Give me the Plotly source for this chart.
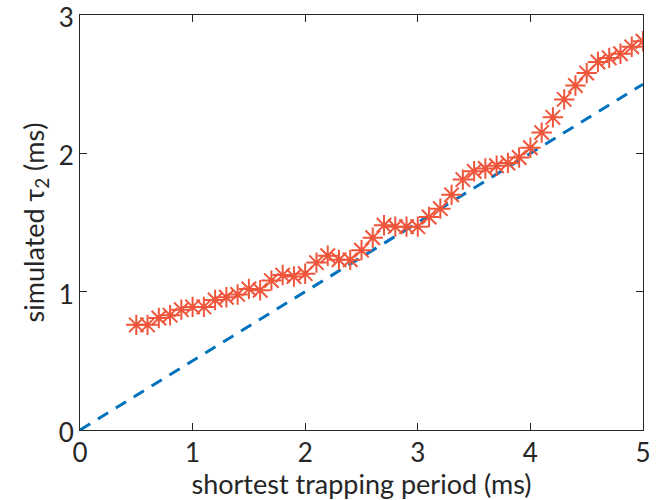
import plotly.graph_objects as go

x_period = [0.5, 0.6, 0.7, 0.8, 0.9, 1.0, 1.1, 1.2, 1.3, 1.4, 1.5, 1.6, 1.7, 1.8, 1.9,
            2.0, 2.1, 2.2, 2.3, 2.4, 2.5, 2.6, 2.7, 2.8, 2.9, 3.0, 3.1, 3.2, 3.3, 3.4,
            3.5, 3.6, 3.7, 3.8, 3.9, 4.0, 4.1, 4.2, 4.3, 4.4, 4.5, 4.6, 4.7, 4.8, 4.9, 5.0]
tau2_sim = [0.76, 0.76, 0.81, 0.83, 0.87, 0.89, 0.89, 0.94, 0.96, 0.98, 1.02, 1.01, 1.08, 1.12, 1.11,
            1.13, 1.21, 1.26, 1.23, 1.23, 1.30, 1.39, 1.48, 1.47, 1.47, 1.47, 1.54, 1.60, 1.70, 1.81,
            1.87, 1.89, 1.91, 1.93, 1.97, 2.04, 2.15, 2.26, 2.39, 2.49, 2.58, 2.66, 2.69, 2.72, 2.77, 2.81]
ref_x = [0, 5]
ref_y = [0, 2.5]

x_ticks = [0, 1, 2, 3, 4, 5]
y_ticks = [0, 1, 2, 3]

FONT = "Lato"

fig = go.Figure()
fig.add_trace(go.Scatter(x=ref_x, y=ref_y, mode="lines",
                         line=dict(color="#0072BD", width=3, dash="12px,9px"),
                         showlegend=False))
fig.add_trace(go.Scatter(x=x_period, y=tau2_sim, mode="markers",
                         marker=dict(symbol="asterisk-open", size=17,
                                     line=dict(color="#D95319", width=2)),
                         showlegend=False))

axis_common = dict(showgrid=False, zeroline=False, showline=True, linecolor="#262626",
                   linewidth=1, mirror="ticks", ticks="inside", ticklen=7,
                   tickcolor="#262626", ticklabeloverflow="allow", automargin=False,
                   tickfont=dict(size=26, color="#262626", family=FONT))
fig.update_layout(
    width=660, height=500,
    margin=dict(l=80, r=17, t=15, b=70),
    plot_bgcolor="white", paper_bgcolor="white",
    xaxis=dict(range=[0, 5], tickvals=x_ticks,
               title=dict(text="shortest trapping period (ms)", standoff=2,
                          font=dict(size=27, color="#262626", family=FONT)),
               **axis_common),
    yaxis=dict(range=[0, 3], tickvals=y_ticks, ticklabelshift=3,
               title=dict(text="simulated τ<sub>2</sub> (ms)", standoff=6,
                          font=dict(size=27, color="#262626", family=FONT)),
               **axis_common),
)
fig.write_html("out.html")
